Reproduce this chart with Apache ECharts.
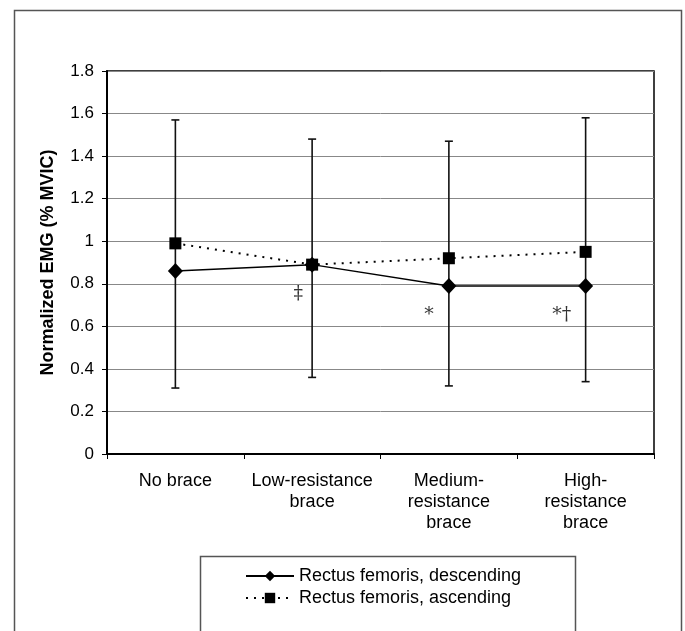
<!DOCTYPE html>
<html>
<head>
<meta charset="utf-8">
<script src="https://cdn.jsdelivr.net/npm/echarts@6/dist/echarts.min.js"></script>
<style>
  html, body { margin: 0; padding: 0; background: #fff; }
  #chart { width: 685px; height: 631px; }
</style>
</head>
<body>
<div id="chart"></div>
<script>
// categories and values
const categories = ["No brace", "Low-resistance\nbrace", "Medium-\nresistance\nbrace", "High-\nresistance\nbrace"]
const descending = [0.86, 0.89, 0.79, 0.79]
const ascending = [0.99, 0.89, 0.92, 0.95]
const errLow = [0.31, 0.36, 0.32, 0.34]
const errHigh = [1.57, 1.48, 1.47, 1.58]
const marks = ["", "\u2021", "*", "*\u2020"]
const markValues = [null, 0.75, 0.655, 0.655]
const markShift = [0, -14, -20, -24]

const chart = echarts.init(document.getElementById("chart"))

const font = "Liberation Sans, Arial, sans-serif"

const option = {
  animation: false,
  backgroundColor: "#fff",
  graphic: [
    // outer frame
    { type: "rect", left: 12, top: 8, shape: { width: 667, height: 700 },
      style: { fill: "none", stroke: "#555", lineWidth: 1.5 }, silent: true },
    // legend box
    { type: "rect", left: 198, top: 554, shape: { width: 375, height: 100 },
      style: { fill: "none", stroke: "#555", lineWidth: 1.5 }, silent: true }
  ],
  grid: {
    left: 107,
    right: 31,
    top: 71,
    bottom: 177,
    show: true,
    borderColor: "#000",
    borderWidth: 1.5
  },
  legend: {
    orient: "vertical",
    left: 240,
    top: 562,
    itemWidth: 48,
    itemHeight: 13,
    itemGap: 4,
    textStyle: { fontFamily: font, fontSize: 18, color: "#000", lineHeight: 18 },
    data: ["Rectus femoris, descending", "Rectus femoris, ascending"]
  },
  xAxis: {
    type: "category",
    data: categories,
    boundaryGap: true,
    axisLine: { lineStyle: { color: "#000", width: 2 } },
    axisTick: { show: true, length: 5, lineStyle: { color: "#000" } },
    axisLabel: {
      interval: 0,
      margin: 17,
      fontFamily: font,
      fontSize: 18,
      lineHeight: 21,
      color: "#000",
      align: "center"
    },
    splitLine: { show: false }
  },
  yAxis: {
    type: "value",
    min: 0,
    max: 1.8,
    interval: 0.2,
    name: "Normalized EMG (% MVIC)",
    nameLocation: "middle",
    nameGap: 50,
    nameTextStyle: { fontFamily: font, fontSize: 18, fontWeight: "bold", color: "#000" },
    axisLine: { show: true, lineStyle: { color: "#000", width: 2 } },
    axisTick: { show: true, inside: false, length: 5, lineStyle: { color: "#000" } },
    axisLabel: { fontFamily: font, fontSize: 17, color: "#000", margin: 13 },
    splitLine: { lineStyle: { color: "#888", width: 1 } }
  },
  series: [
    {
      name: "error bars",
      type: "custom",
      z: 1,
      renderItem: function (params, api) {
        const lo = api.coord([api.value(0), api.value(1)])
        const hi = api.coord([api.value(0), api.value(2)])
        const cap = 4
        const style = { stroke: "#111", lineWidth: 1.6 }
        return {
          type: "group",
          children: [
            { type: "line", shape: { x1: lo[0], y1: lo[1], x2: hi[0], y2: hi[1] }, style: style },
            { type: "line", shape: { x1: lo[0] - cap, y1: lo[1], x2: lo[0] + cap, y2: lo[1] }, style: style },
            { type: "line", shape: { x1: hi[0] - cap, y1: hi[1], x2: hi[0] + cap, y2: hi[1] }, style: style }
          ]
        }
      },
      encode: { x: 0, y: [1, 2] },
      data: categories.map((c, i) => [i, errLow[i], errHigh[i]]),
      silent: true
    },
    {
      name: "Rectus femoris, descending",
      type: "line",
      z: 3,
      data: descending,
      symbol: "diamond",
      symbolSize: [15, 16],
      lineStyle: { color: "#000", width: 1.5, type: "solid" },
      itemStyle: { color: "#000" }
    },
    {
      name: "Rectus femoris, ascending",
      type: "line",
      z: 4,
      data: ascending,
      symbol: "rect",
      symbolSize: 12,
      lineStyle: { color: "#000", width: 2, type: [2, 6] },
      itemStyle: { color: "#000" }
    },
    {
      name: "annotations",
      type: "scatter",
      z: 5,
      symbolSize: 0,
      silent: true,
      data: markValues.map((v, i) => ({
        value: [i, v],
        label: {
          show: true,
          formatter: marks[i],
          offset: [markShift[i], 0],
          position: "inside",
          fontFamily: "DejaVu Serif, Liberation Serif, serif",
          fontSize: 19,
          color: "#000"
        }
      }))
    }
  ]
}

chart.setOption(option)
</script>
</body>
</html>
